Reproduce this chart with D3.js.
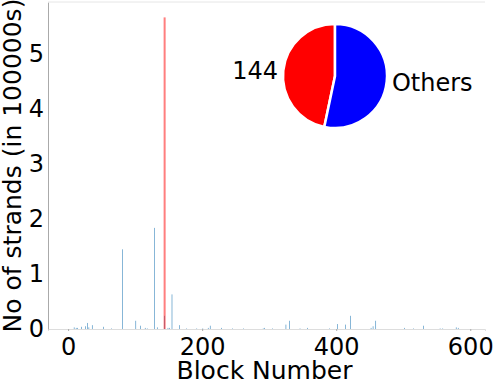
<!DOCTYPE html>
<html>
<head>
<meta charset="utf-8">
<script src="https://cdn.jsdelivr.net/npm/d3@7"></script>
<style>
  body { margin: 0; background: #fff; }
  text { font-family: "DejaVu Sans", sans-serif; fill: #000; }
</style>
</head>
<body>
<div id="chart"></div>
<script>
// strands per block (in 100000s)
var blocks  = [9, 12, 14, 20, 26, 29, 31, 36, 53, 65, 81, 101, 108, 115, 118, 129, 133, 144, 149, 151, 155, 166, 177, 192, 201, 209, 212, 229, 245, 262,
               291, 293, 305, 325, 330, 346, 357, 390, 402, 414, 421, 452, 455, 459, 502, 515, 530, 555, 559, 579, 582];
var strands = [0.03, 0.02, 0.02, 0.04, 0.05, 0.11, 0.03, 0.07, 0.04, 0.01, 1.45, 0.15, 0.06, 0.02, 0.01, 1.84, 0.03, 0.24, 0.02, 0.02, 0.63, 0.07, 0.01, 0.01, 0.01, 0.02, 0.06, 0.02, 0.01, 0.01,
               0.01, 0.02, 0.01, 0.08, 0.15, 0.01, 0.02, 0.01, 0.09, 0.08, 0.24, 0.02, 0.05, 0.15, 0.02, 0.01, 0.06, 0.01, 0.01, 0.03, 0.02];
var topBlock = [144];
var topStrands = [5.67];

var xTicks = [0, 200, 400, 600];
var yTicks = [0, 1, 2, 3, 4, 5];

var pieLabels = ["144", "Others"];
var pieValues = [0.467, 0.533];
var pieColors = ["#ff0000", "#0000ff"];

var W = 498, H = 386;
var margin = {top: 2, right: 13, bottom: 57, left: 48},
    width = W - margin.left - margin.right,
    height = H - margin.top - margin.bottom;

var svg = d3.select("#chart").append("svg")
    .attr("width", W)
    .attr("height", H);

var g = svg.append("g")
    .attr("transform", "translate(" + margin.left + "," + margin.top + ")");

// set the ranges
var x = d3.scaleLinear().domain([-30, 622]).range([0, width]);
var y = d3.scaleLinear().domain([0, 5.95]).range([height, 0]);

var barW = 0.8, redW = 3;

// blue bars
g.selectAll(".bar")
    .data(blocks)
    .enter().append("rect")
    .attr("class", "bar")
    .attr("x", function(d) { return x(d - barW / 2); })
    .attr("width", function(d) { return x(d + barW / 2) - x(d - barW / 2); })
    .attr("y", function(d, i) { return y(strands[i]); })
    .attr("height", function(d, i) { return height - y(strands[i]); })
    .attr("fill", "#1f77b4");

// the biggest block in red
g.selectAll(".top")
    .data(topBlock)
    .enter().append("rect")
    .attr("class", "top")
    .attr("x", function(d) { return x(d - redW / 2); })
    .attr("width", function(d) { return x(d + redW / 2) - x(d - redW / 2); })
    .attr("y", function(d, i) { return y(topStrands[i]); })
    .attr("height", function(d, i) { return height - y(topStrands[i]); })
    .attr("fill", "#ff0000")
    .attr("fill-opacity", 0.5);

// x axis
var xAxis = g.append("g")
    .attr("transform", "translate(0," + height + ")")
    .call(d3.axisBottom(x).tickValues(xTicks).tickSize(2).tickPadding(7));
xAxis.select(".domain").attr("stroke", "#dddddd");
xAxis.selectAll(".tick line").attr("stroke", "#aaaaaa");
xAxis.selectAll("text").style("font-size", "24px").style("font-family", "DejaVu Sans");

// y axis
var yAxis = g.append("g")
    .call(d3.axisLeft(y).tickValues(yTicks).tickFormat(d3.format("d")).tickSize(0).tickPadding(4));
yAxis.select(".domain").attr("stroke", "#aaaaaa");
yAxis.selectAll("text").style("font-size", "24px").style("font-family", "DejaVu Sans");

// top spine
g.append("line")
    .attr("x1", 0).attr("x2", width)
    .attr("y1", 0).attr("y2", 0)
    .attr("stroke", "#e6e6e6");

// axis labels
svg.append("text")
    .attr("x", margin.left + width / 2 - 2)
    .attr("y", 379)
    .attr("text-anchor", "middle")
    .style("font-size", "25px")
    .text("Block Number");

svg.append("text")
    .attr("transform", "translate(21," + (margin.top + height / 2) + ") rotate(-90)")
    .attr("text-anchor", "middle")
    .style("font-size", "25px")
    .text("No of strands (in 100000s)");

// pie inset
var cx = 335, cy = 76, r = 52;
var f = pieValues[0] / d3.sum(pieValues);
var pie = d3.pie().sort(null)
    .startAngle(-2 * Math.PI * f)
    .endAngle(2 * Math.PI * (1 - f));
var arc = d3.arc().innerRadius(0).outerRadius(r);
var slices = pie(pieValues);

var pg = svg.append("g").attr("transform", "translate(" + cx + "," + cy + ")");
pg.selectAll("path")
    .data(slices)
    .enter().append("path")
    .attr("d", arc)
    .attr("fill", function(d, i) { return pieColors[i]; })
    .attr("stroke", "#fff")
    .attr("stroke-width", 2.5);

pg.selectAll(".plabel")
    .data(slices)
    .enter().append("text")
    .attr("class", "plabel")
    .attr("x", function(d) { var a = (d.startAngle + d.endAngle) / 2; return Math.sin(a) * r * 1.1; })
    .attr("y", function(d) { var a = (d.startAngle + d.endAngle) / 2; return -Math.cos(a) * r * 1.1; })
    .attr("dy", "0.36em")
    .attr("text-anchor", function(d) { var a = (d.startAngle + d.endAngle) / 2; return Math.sin(a) < 0 ? "end" : "start"; })
    .style("font-size", "24px")
    .text(function(d, i) { return pieLabels[i]; });
</script>
</body>
</html>
